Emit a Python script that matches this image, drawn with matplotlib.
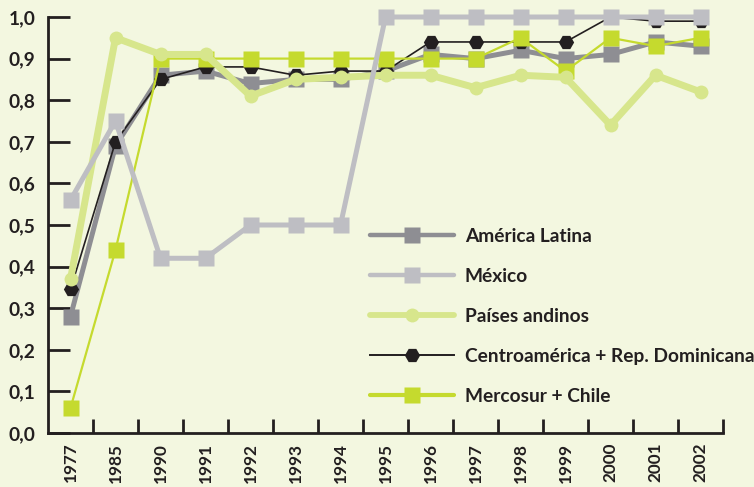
import matplotlib
matplotlib.use("Agg")
import matplotlib.pyplot as plt
from matplotlib.ticker import FixedLocator

years = ["1977", "1985", "1990", "1991", "1992", "1993", "1994", "1995",
         "1996", "1997", "1998", "1999", "2000", "2001", "2002"]
america_latina = [0.28, 0.69, 0.86, 0.87, 0.84, 0.85, 0.85, 0.87, 0.91, 0.90, 0.92, 0.90, 0.91, 0.94, 0.93]
mexico = [0.56, 0.75, 0.42, 0.42, 0.50, 0.50, 0.50, 1.00, 1.00, 1.00, 1.00, 1.00, 1.00, 1.00, 1.00]
andinos = [0.37, 0.95, 0.91, 0.91, 0.81, 0.85, 0.855, 0.86, 0.86, 0.83, 0.86, 0.855, 0.74, 0.86, 0.82]
centro = [0.345, 0.70, 0.85, 0.88, 0.88, 0.86, 0.87, 0.87, 0.94, 0.94, 0.94, 0.94, 1.00, 0.99, 0.99]
mercosur = [0.06, 0.44, 0.90, 0.90, 0.90, 0.90, 0.90, 0.90, 0.90, 0.90, 0.95, 0.87, 0.95, 0.93, 0.95]
y_ticks = [0.0, 0.1, 0.2, 0.3, 0.4, 0.5, 0.6, 0.7, 0.8, 0.9, 1.0]
y_labels = ["0,0", "0,1", "0,2", "0,3", "0,4", "0,5", "0,6", "0,7", "0,8", "0,9", "1,0"]
names = ["América Latina", "México", "Países andinos",
         "Centroamérica + Rep. Dominicana", "Mercosur + Chile"]

BG = "#F3F7E0"
INK = "#231F20"
plt.rcParams['font.family'] = ['Lato', 'DejaVu Sans']
plt.rcParams['font.weight'] = 'bold'

fig = plt.figure(figsize=(7.54, 4.87), dpi=100, facecolor=BG)
ax = fig.add_axes([48/754, 1-433/487, (723-48)/754, (433-17)/487])
ax.set_facecolor(BG)

x = list(range(len(years)))
h_al, = ax.plot(x, america_latina, color="#8E8E93", lw=3.6, marker="s", ms=11,
                mec="none", zorder=3, clip_on=False, solid_capstyle="round")
h_ce, = ax.plot(x, centro, color=INK, lw=1.2, marker="H", ms=11,
                mec="none", zorder=4, clip_on=False)
h_me, = ax.plot(x, mercosur, color="#C5DA2E", lw=1.6, marker="s", ms=12,
                mec="none", zorder=5, clip_on=False, solid_capstyle="round")
h_an, = ax.plot(x, andinos, color="#D7E68C", lw=5, marker="o", ms=10,
                mec="none", zorder=6, clip_on=False, solid_capstyle="round")
h_mx, = ax.plot(x, mexico, color="#BEBEC3", lw=3.6, marker="s", ms=11,
                mec="none", zorder=7, clip_on=False, solid_capstyle="round")

ax.set_xlim(-0.5, len(years) - 0.5)
ax.set_ylim(0, 1.0)
ax.set_yticks(y_ticks)
ax.set_yticklabels(y_labels, fontsize=13.8, color=INK)
ax.set_xticks(x)
ax.set_xticklabels(years, rotation=90, fontsize=12.3, color=INK)
ax.xaxis.set_minor_locator(FixedLocator([i + 0.5 for i in range(len(years))]))
ax.tick_params(axis="x", which="major", length=0, pad=7)
ax.tick_params(axis="x", which="minor", length=10, width=2, direction="in", color=INK)
ax.tick_params(axis="y", which="major", length=16, width=2, direction="in", color=INK, pad=9)

for s in ["top", "right"]:
    ax.spines[s].set_visible(False)
for s in ["left", "bottom"]:
    ax.spines[s].set_linewidth(2)
    ax.spines[s].set_color(INK)

leg = ax.legend([h_al, h_mx, h_an, h_ce, h_me], names, loc="upper left",
                bbox_to_anchor=(370/754, 1-228/487), bbox_transform=fig.transFigure,
                frameon=False, fontsize=13.8, handlelength=4.4, handletextpad=0.55,
                labelspacing=1.2, borderpad=0, borderaxespad=0)
for t in leg.get_texts():
    t.set_color(INK)
for ln, w in zip(leg.get_lines(), [3.2, 3.2, 4.2, 1.4, 3.0]):
    ln.set_linewidth(w)

fig.savefig("out.png", dpi=100, facecolor=BG)
